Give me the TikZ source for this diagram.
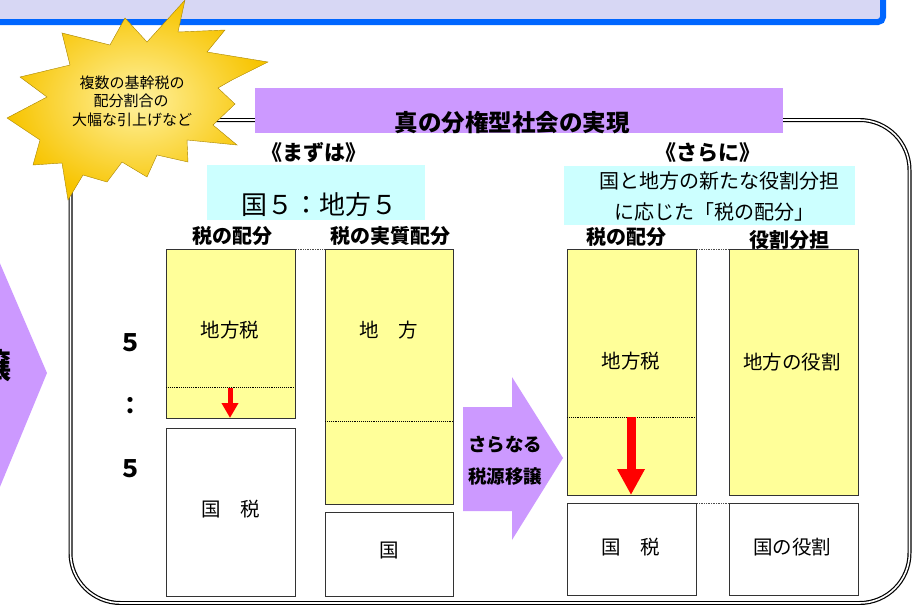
\documentclass[tikz,border=0pt]{standalone}
\usepackage{fontspec}
\setmainfont{Noto Sans CJK JP}
\usetikzlibrary{arrows.meta}
\definecolor{bannerfill}{HTML}{D7D7F4}
\definecolor{bannerline}{HTML}{0066FF}
\definecolor{purp}{HTML}{CC99FF}
\definecolor{cyanfill}{HTML}{CCFFFF}
\definecolor{yfill}{HTML}{FFFF99}
\definecolor{boxline}{HTML}{333333}
\definecolor{goldout}{HTML}{F7C400}
\definecolor{goldin}{HTML}{FFF2A0}
\definecolor{goldedge}{HTML}{A88400}
\begin{document}
\begin{tikzpicture}[x=1pt,y=-1pt,
  txt/.style={inner sep=0pt, font=\fontsize{#1}{#1}\selectfont},
  btxt/.style={inner sep=0pt, font=\bfseries\fontsize{#1}{#1}\selectfont},
  ybox/.style={draw=boxline, line width=1.3pt, fill=yfill, anchor=north west, inner sep=0pt},
  wbox/.style={draw=boxline, line width=1.3pt, fill=white, anchor=north west, inner sep=0pt},
  plate/.style={anchor=north west, inner sep=0pt},
  dotline/.style={densely dotted, line width=0.9pt, black},
  gapline/.style={densely dotted, line width=0.7pt, black!70},
  redarrow/.style={draw=red, line width=#1}
]
\useasboundingbox (0,0) rectangle (916,605);
\clip (0,0) rectangle (916,605);

% top banner
\draw[bannerline, line width=6pt, fill=bannerfill, rounded corners=5pt] (-20,-30) rectangle (883,22);

% left partial purple arrow
\fill[purp] (-10,240) -- (47,373) -- (-10,511) -- cycle;
\node[btxt=34] (leftword) at (-5,366) {譲};

% main frame
\draw[double=white, double distance=1.6pt, line width=1.2pt, rounded corners=50pt] (70.5,120) rectangle (909.5,603);

% starburst
\path[draw=goldedge, line width=0.4pt, inner color=goldin, outer color=goldout]
  (185,0) -- (178,32) -- (225,30) -- (207,52) -- (268,62) -- (232,80) -- (218,88) -- (235,104)
  -- (213,125) -- (237,145) -- (187,140) -- (188,162) -- (157,155) -- (147,177) -- (122,162)
  -- (107,182) -- (83,175) -- (68,200) -- (62,163) -- (33,165) -- (40,140) -- (7,118)
  -- (47,97) -- (20,77) -- (70,65) -- (62,33) -- (110,45) -- (125,18) -- (147,42) -- cycle;
\node[txt=15] (star1) at (132,83) {複数の基幹税の};
\node[txt=15] (star2) at (131,101) {配分割合の};
\node[txt=15] (star3) at (132,120) {大幅な引上げなど};

% title
\node[plate, fill=purp, minimum width=528pt, minimum height=45pt] (titlebox) at (255,88) {};
\node[btxt=23.5] (titletext) at (512,123) {真の分権型社会の実現};

% ---- left part
\node[btxt=21] (mazu) at (314,153) {《まずは》};
\node[plate, fill=cyanfill, minimum width=218pt, minimum height=55pt] (cyanL) at (207,165) {};
\node[txt=26] (ratio) at (319,205) {国５：地方５};
\node[btxt=20] (hdA) at (232,236) {税の配分};
\node[btxt=20] (hdB) at (390,236) {税の実質配分};

\node[btxt=24] (n5a) at (130,343) {５};
\node[btxt=24] (ncolon) at (130,406) {：};
\node[btxt=24] (n5b) at (130,469) {５};

\node[ybox, minimum width=129pt, minimum height=169pt] (A1) at (166,249) {};
\node[wbox, minimum width=129pt, minimum height=168pt] (A2) at (166,428) {};
\node[ybox, minimum width=128pt, minimum height=255pt] (B1) at (325,249) {};
\node[wbox, minimum width=128pt, minimum height=84pt] (B2) at (325,512) {};
\draw[gapline] (A1.north east) -- (B1.north west);

\coordinate (a1dl) at (166,387);
\coordinate (a1dr) at (295,387);
\draw[dotline] (a1dl) -- (a1dr);
\coordinate (b1dl) at (325,421);
\coordinate (b1dr) at (453,421);
\draw[dotline] (b1dl) -- (b1dr);

\coordinate (r1s) at (230,388);
\coordinate (r1e) at (230,418);
\draw[redarrow=5pt, -{Triangle[width=16pt,length=15pt]}] (r1s) -- (r1e);

\node[txt=19.5] (tA1) at (230,330) {地方税};
\node[txt=19.5] (tA2) at (231,509) {国\hspace{1em}税};
\node[txt=19.5] (tB1) at (389,330) {地\hspace{1em}方};
\node[txt=19.5] (tB2) at (389,551) {国};

% middle arrow
\fill[purp] (463,407) -- (512,407) -- (512,377) -- (563,458) -- (512,540) -- (512,511) -- (463,511) -- cycle;
\node[btxt=18.5] (mid1) at (505,445) {さらなる};
\node[btxt=18.5] (mid2) at (505,477) {税源移譲};

% ---- right part
\node[btxt=21] (sarani) at (708,153) {《さらに》};
\node[plate, fill=cyanfill, minimum width=291pt, minimum height=59pt] (cyanR) at (564,166) {};
\node[txt=20] (cy1) at (719,181) {国と地方の新たな役割分担};
\node[txt=20] (cy2) at (714,212) {に応じた「税の配分」};
\node[btxt=20] (hdC) at (626,237) {税の配分};
\node[btxt=20] (hdD) at (789,240) {役割分担};

\node[ybox, minimum width=129pt, minimum height=246pt] (C1) at (567,249) {};
\node[wbox, minimum width=129pt, minimum height=92pt] (C2) at (567,503) {};
\node[ybox, minimum width=129pt, minimum height=246pt] (D1) at (729,249) {};
\node[wbox, minimum width=129pt, minimum height=92pt] (D2) at (729,503) {};
\draw[gapline] (C1.north east) -- (D1.north west);
\draw[gapline] (C2.north east) -- (D2.north west);

\coordinate (c1dl) at (567,417);
\coordinate (c1dr) at (696,417);
\draw[dotline] (c1dl) -- (c1dr);

\coordinate (r2s) at (631,417);
\coordinate (r2e) at (631,495);
\draw[redarrow=9pt, -{Triangle[width=26pt,length=26pt]}] (r2s) -- (r2e);

\node[txt=19.5] (tC1) at (631,361) {地方税};
\node[txt=19.5] (tC2) at (631,547) {国\hspace{1em}税};
\node[txt=19.5] (tD1) at (792,362) {地方の役割};
\node[txt=19.5] (tD2) at (792,547) {国の役割};
\end{tikzpicture}
\end{document}
